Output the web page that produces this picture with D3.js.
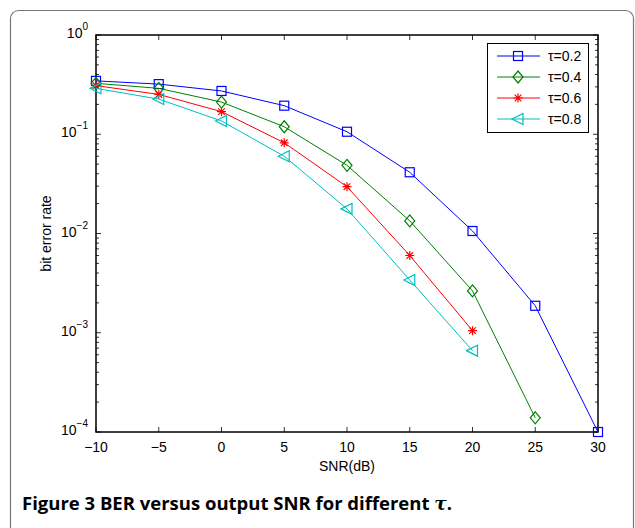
<!DOCTYPE html>
<html>
<head>
  <script src="https://d3js.org/d3.v7.min.js"></script>
  <style>
    body { margin: 0; background: #fff; }
    svg text { font-family: "Liberation Sans", Arial, sans-serif; }
    .caption { font-family: "Open Sans", "Noto Sans", sans-serif; font-weight: 700; }
  </style>
</head>
<body>
  <div id="chart"></div>
  <script>
    // Data
    const snr = [-10, -5, 0, 5, 10, 15, 20, 25, 30];
    const ber02 = [0.345, 0.32, 0.273, 0.194, 0.106, 0.0414, 0.0106, 0.00187, 0.0001];
    const ber04 = [0.326, 0.29, 0.211, 0.119, 0.0486, 0.0134, 0.00264, 0.000139];
    const ber06 = [0.309, 0.252, 0.169, 0.082, 0.0296, 0.006, 0.00105];
    const ber08 = [0.29, 0.226, 0.136, 0.06, 0.0177, 0.0034, 0.00066];
    const seriesNames = ["τ=0.2", "τ=0.4", "τ=0.6", "τ=0.8"];
    const xTicks = [-10, -5, 0, 5, 10, 15, 20, 25, 30];
    const yExps = [0, -1, -2, -3, -4];

    const series = [
      { name: seriesNames[0], values: ber02, color: "#0000ff", marker: "square" },
      { name: seriesNames[1], values: ber04, color: "#008000", marker: "diamond" },
      { name: seriesNames[2], values: ber06, color: "#ff0000", marker: "star" },
      { name: seriesNames[3], values: ber08, color: "#00bfbf", marker: "triangle" }
    ];

    const W = 635, H = 528;
    const plot = { left: 96, right: 598, top: 35, bottom: 432 };

    const svg = d3.select("#chart").append("svg")
      .attr("width", W).attr("height", H);

    // outer frame
    svg.append("rect")
      .attr("x", 10.5).attr("y", 10.5)
      .attr("width", 623).attr("height", 540)
      .attr("rx", 8)
      .attr("fill", "none")
      .attr("stroke", "#777")
      .attr("stroke-width", 1.2);

    const x = d3.scaleLinear().domain([-10, 30]).range([plot.left, plot.right]);
    const y = d3.scaleLog().domain([1e-4, 1]).range([plot.bottom, plot.top]);

    const g = svg.append("g");

    // ticks: major x ticks top & bottom, inward
    xTicks.forEach(t => {
      const xp = x(t);
      g.append("line").attr("x1", xp).attr("x2", xp)
        .attr("y1", plot.bottom).attr("y2", plot.bottom - 5)
        .attr("stroke", "#000").attr("stroke-width", 0.8);
      g.append("line").attr("x1", xp).attr("x2", xp)
        .attr("y1", plot.top).attr("y2", plot.top + 5)
        .attr("stroke", "#000").attr("stroke-width", 0.8);
      g.append("text")
        .attr("x", xp).attr("y", plot.bottom + 20)
        .attr("text-anchor", "middle")
        .attr("font-size", 14)
        .text(t < 0 ? "\u2212" + Math.abs(t) : t);
    });

    // y ticks, log minor ticks
    const yTickVals = [];
    for (let e = -4; e < 0; e++) {
      for (let m = 1; m < 10; m++) yTickVals.push(m * Math.pow(10, e));
    }
    yTickVals.push(1);
    yTickVals.forEach(v => {
      const yp = y(v);
      const major = Math.abs(Math.log10(v) - Math.round(Math.log10(v))) < 1e-9;
      const len = major ? 5 : 3;
      g.append("line").attr("x1", plot.left).attr("x2", plot.left + len)
        .attr("y1", yp).attr("y2", yp)
        .attr("stroke", "#000").attr("stroke-width", 0.8);
      g.append("line").attr("x1", plot.right).attr("x2", plot.right - len)
        .attr("y1", yp).attr("y2", yp)
        .attr("stroke", "#000").attr("stroke-width", 0.8);
    });

    yExps.forEach(e => {
      const yp = y(Math.pow(10, e));
      const t = g.append("text")
        .attr("x", plot.left - 8).attr("y", yp + 3)
        .attr("text-anchor", "end")
        .attr("font-size", 14);
      t.append("tspan").text("10");
      t.append("tspan").attr("dy", -8).attr("font-size", 10)
        .text(e === 0 ? "0" : "\u2212" + Math.abs(e));
    });

    // axis box
    svg.append("rect")
      .attr("x", plot.left).attr("y", plot.top)
      .attr("width", plot.right - plot.left).attr("height", plot.bottom - plot.top)
      .attr("fill", "none").attr("stroke", "#000").attr("stroke-width", 1.5);

    // axis labels
    svg.append("text")
      .attr("x", x(10)).attr("y", 471)
      .attr("text-anchor", "middle").attr("font-size", 14)
      .text("SNR(dB)");
    svg.append("text")
      .attr("transform", `translate(51, ${(plot.top + plot.bottom) / 2}) rotate(-90)`)
      .attr("text-anchor", "middle").attr("font-size", 14)
      .text("bit error rate");

    // markers
    function drawMarker(sel, type, color) {
      if (type === "square") {
        sel.append("rect").attr("x", -4.5).attr("y", -4.5).attr("width", 9).attr("height", 9)
          .attr("fill", "none").attr("stroke", color).attr("stroke-width", 1.2);
      } else if (type === "diamond") {
        sel.append("path").attr("d", "M0,-6L5,0L0,6L-5,0Z")
          .attr("fill", "none").attr("stroke", color).attr("stroke-width", 1.2);
      } else if (type === "star") {
        sel.append("path").attr("d", "M-4.5,0H4.5M0,-4.5V4.5M-3.3,-3.3L3.3,3.3M-3.3,3.3L3.3,-3.3")
          .attr("fill", "none").attr("stroke", color).attr("stroke-width", 1.2);
      } else {
        sel.append("path").attr("d", "M-6,0L5,-5.5L5,5.5Z")
          .attr("fill", "none").attr("stroke", color).attr("stroke-width", 1.2);
      }
    }

    const line = d3.line()
      .x((d, i) => x(snr[i]))
      .y(d => y(d));

    series.forEach(s => {
      svg.append("path").datum(s.values)
        .attr("d", line)
        .attr("fill", "none")
        .attr("stroke", s.color)
        .attr("stroke-width", 1);
      s.values.forEach((v, i) => {
        const m = svg.append("g").attr("transform", `translate(${x(snr[i])},${y(v)})`);
        drawMarker(m, s.marker, s.color);
      });
    });

    // legend
    const lg = svg.append("g");
    lg.append("rect")
      .attr("x", 487.5).attr("y", 43.5).attr("width", 101).attr("height", 89)
      .attr("fill", "#fff").attr("stroke", "#000").attr("stroke-width", 1);
    series.forEach((s, i) => {
      const ly = 56 + i * 21;
      lg.append("line").attr("x1", 497).attr("x2", 540).attr("y1", ly).attr("y2", ly)
        .attr("stroke", s.color).attr("stroke-width", 1);
      drawMarker(lg.append("g").attr("transform", `translate(518,${ly})`), s.marker, s.color);
      lg.append("text").attr("x", 548).attr("y", ly + 5)
        .attr("font-size", 14).text(s.name);
    });

    // caption
    const cap = svg.append("text")
      .attr("class", "caption")
      .attr("x", 22).attr("y", 510)
      .attr("font-size", 18.5);
    cap.append("tspan").text("Figure 3 BER versus output SNR for different ");
    cap.append("tspan").attr("font-style", "italic")
      .attr("font-family", "DejaVu Serif, serif").text("τ");
    cap.append("tspan").text(".");
  </script>
</body>
</html>
